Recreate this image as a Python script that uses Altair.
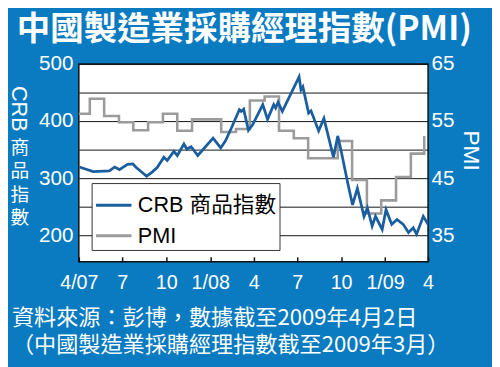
import altair as alt
import pandas as pd

# ---------------- data ----------------
crb_dates = ["2007-04-02","2007-05-01","2007-06-04","2007-06-15","2007-06-25","2007-07-12","2007-07-23","2007-07-29",
             "2007-08-21","2007-09-02","2007-09-12","2007-09-26","2007-10-03","2007-10-17","2007-10-24","2007-11-07",
             "2007-11-13","2007-11-22","2007-12-06","2008-01-07","2008-01-23","2008-02-02","2008-02-16","2008-03-02",
             "2008-03-06","2008-03-11","2008-03-21","2008-03-30","2008-04-20","2008-04-30","2008-05-13","2008-05-17",
             "2008-05-22","2008-05-31","2008-07-05","2008-07-09","2008-07-13","2008-07-25","2008-07-30","2008-08-15",
             "2008-08-26","2008-09-15","2008-09-24","2008-10-01","2008-10-15","2008-10-25","2008-11-04","2008-11-18",
             "2008-11-25","2008-12-05","2008-12-12","2008-12-26","2009-01-03","2009-01-15","2009-01-26","2009-02-08",
             "2009-02-19","2009-03-01","2009-03-08","2009-03-22","2009-04-01"]
crb_values = [319.5, 311.5, 312.6, 319.5, 315, 324, 325, 319.5,
              303.4, 311, 318.5, 336.7, 331, 347, 339.7, 359.8,
              351, 355, 339.7, 370, 353, 365.5, 391, 420,
              417, 421, 384, 394, 428.8, 403, 428.8, 423,
              433, 417, 477.6, 454.6, 460, 414, 418, 382.8,
              404.6, 336.7, 374, 348, 291, 253, 282, 233,
              247.7, 216, 233, 210, 244.8, 219, 227.6, 219,
              204.6, 213, 201.7, 233, 219]

pmi_months = ["2007-03","2007-04","2007-05","2007-06","2007-07","2007-08","2007-09","2007-10","2007-11","2007-12",
              "2008-01","2008-02","2008-03","2008-04","2008-05","2008-06","2008-07","2008-08","2008-09","2008-10",
              "2008-11","2008-12","2009-01","2009-02","2009-03"]
pmi_values = [56.3, 58.9, 55.9, 54.8, 53.4, 54.8, 56.3, 53.3, 55.3, 55.3,
              53.1, 53.6, 58.6, 59.3, 53.3, 52.0, 48.5, 48.5, 51.5, 44.7,
              38.8, 41.1, 45.2, 49.3, 52.4]

series_names = ["CRB 商品指數", "PMI"]
tick_months = ["2007-04","2007-07","2007-10","2008-01","2008-04","2008-07","2008-10","2009-01","2009-04"]
tick_labels = ["4/07", "7", "10", "1/08", "4", "7", "10", "1/09", "4"]
crb_ticks = [200, 250, 300, 350, 400, 450, 500]
pmi_ticks = [35, 45, 55, 65]

title_text = "中國製造業採購經理指數(PMI)"
left_title_latin = "CRB"
left_title_cjk = ["商", "品", "指", "數"]
right_title = "PMI"
source_lines = ["資料來源：彭博，數據截至2009年4月2日", "（中國製造業採購經理指數截至2009年3月）"]

# ---------------- style ----------------
BG = "#0a7ac1"
BLUE = "#1b5e9f"
GRAY = "#9b9b9b"
LATIN = "Liberation Sans, Arial, Noto Sans CJK TC"
CJK = "Noto Sans CJK TC"

crb_df = pd.DataFrame({"date": [d + "T00:00:00" for d in crb_dates], "value": crb_values, "series": series_names[0]})
pmi_df = pd.DataFrame({"date": [m + "-24T00:00:00" for m in pmi_months], "value": pmi_values, "series": series_names[1]})

xscale = alt.Scale(domain=[alt.DateTime(year=2007, month=4, date=1), alt.DateTime(year=2009, month=4, date=1)], nice=False)

label_expr = "''"
for m, l in reversed(list(zip(tick_months, tick_labels))):
    label_expr = f"timeFormat(datum.value, '%Y-%m') == '{m}' ? '{l}' : ({label_expr})"

xaxis = alt.Axis(values=[alt.DateTime(year=int(m[:4]), month=int(m[5:]), date=1) for m in tick_months],
                 labelExpr=label_expr, title=None, grid=False, domain=False, offset=-5, tickSize=5,
                 tickColor="#111", tickWidth=1.5, labelColor="white", labelFont=LATIN, labelFontSize=20,
                 labelPadding=11, labelFlush=False, labelOverlap=False)

color = alt.Color("series:N", scale=alt.Scale(domain=series_names, range=[BLUE, GRAY]),
                  legend=alt.Legend(orient="none", legendX=13, legendY=121, title=None, fillColor="white",
                                    strokeColor="#333", padding=3, symbolType="stroke", symbolSize=1296,
                                    symbolStrokeWidth=3, labelFontSize=22, labelFont=LATIN, labelColor="black",
                                    labelOffset=5, rowPadding=-1, cornerRadius=0))

pmi = alt.Chart(pmi_df).mark_line(interpolate="step-after", strokeWidth=2.6, clip=True).encode(
    x=alt.X("date:T", scale=xscale, axis=xaxis),
    y=alt.Y("value:Q", scale=alt.Scale(domain=[30.34, 65], nice=False, zero=False),
            axis=alt.Axis(orient="right", values=pmi_ticks, title=None, grid=False, domain=False, ticks=False,
                          labelPadding=3, labelColor="white", labelFont=LATIN, labelFontSize=21)),
    color=color,
)

crb = alt.Chart(crb_df).mark_line(strokeWidth=2.8, clip=True).encode(
    x=alt.X("date:T", scale=xscale, axis=xaxis),
    y=alt.Y("value:Q", scale=alt.Scale(domain=[153.4, 500], nice=False, zero=False),
            axis=alt.Axis(orient="left", values=crb_ticks, labelExpr="datum.value % 100 == 0 ? datum.label : ''",
                          title=None, grid=True, gridColor="#111", gridWidth=1, domain=False, ticks=False,
                          labelPadding=6, labelColor="white", labelFont=LATIN, labelFontSize=21)),
    color=color,
)

one = pd.DataFrame({"k": [0]})


def label(text, x, y, font, size, angle=0, weight="normal", align="center"):
    props = dict(font=font, fontSize=size, fontWeight=weight, color="white", align=align, baseline="middle")
    if angle:
        props["angle"] = angle
    return alt.Chart(one).mark_text(**props).encode(x=alt.value(x), y=alt.value(y), text=alt.value(text))


layers = [pmi, crb,
          label(title_text, -63, -34, CJK, 34, weight="bold", align="left"),
          label(left_title_latin, -61, 45.5, LATIN, 22, angle=90),
          label(right_title, 399, 88, LATIN, 23, angle=90)]
for i, ch in enumerate(left_title_cjk):
    layers.append(label(ch, -60, 85 + i * 24, CJK, 19))
layers.append(label(source_lines[0], -68, 258.5, CJK, 22.5, align="left"))
layers.append(label(source_lines[1], -68, 286, CJK, 22.5, align="left"))

chart = alt.layer(*layers).resolve_scale(y="independent").properties(
    width=355, height=201,
    autosize=alt.AutoSizeParams(type="none"),
    padding={"left": 72, "top": 54, "right": 65, "bottom": 104},
    background=BG,
).configure_view(fill="white", stroke="#111", strokeWidth=1.5)

chart.save("out.html", embed_options={"renderer": "svg", "actions": False})
